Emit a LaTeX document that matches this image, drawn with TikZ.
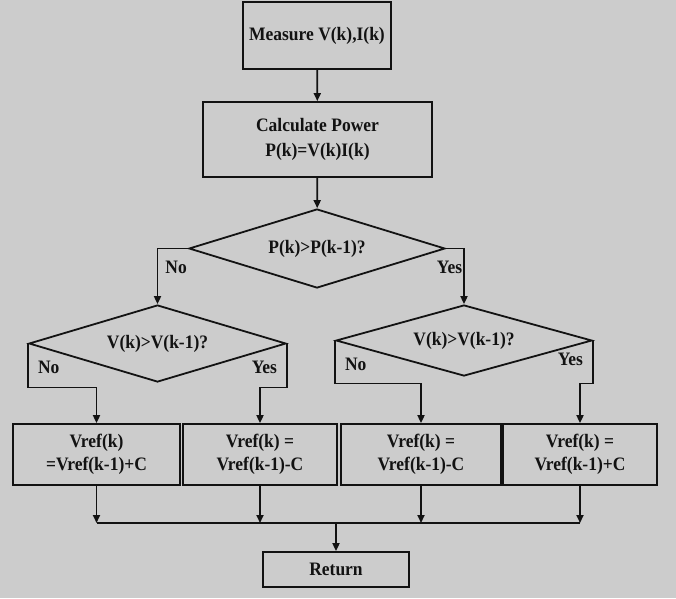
\documentclass[tikz,border=0pt]{standalone}
\usepackage{fontspec}
\setmainfont{Liberation Serif}[FakeStretch=0.92]
\usetikzlibrary{shapes.geometric, arrows.meta, positioning}
\definecolor{BackGray}{RGB}{204,204,204}
\definecolor{LineBlack}{RGB}{18,18,18}

\begin{document}
\begin{tikzpicture}[
    x=1pt, y=-1pt,
    every node/.style={font=\fontsize{19}{23}\selectfont\bfseries, text=LineBlack},
    procbox/.style={
        rectangle, draw=LineBlack, line width=1.8pt,
        align=center, inner sep=0pt
    },
    decbox/.style={
        diamond, draw=LineBlack, line width=1.8pt,
        inner sep=0pt, aspect=3
    },
    lbl/.style={inner sep=0pt},
    arr/.style={-{Triangle[length=8pt, width=7pt]}, line width=1.8pt, LineBlack},
    wire/.style={line width=1.8pt, LineBlack}
]

% background and page size
\fill[BackGray] (0,0) rectangle (676,598);

% ===================================================================
% Measurement and power
% ===================================================================
\node[procbox, minimum width=148pt, minimum height=67pt] (measure)
    at (317,35.5) {Measure V(k),I(k)};

\node[procbox, minimum width=229pt, minimum height=75pt] (power)
    at (317.5,139.5) {Calculate Power\\[2pt] P(k)=V(k)I(k)};

% ===================================================================
% Decisions
% ===================================================================
\node[decbox, minimum width=256pt, minimum height=79pt] (decP)
    at (317,248.5) {P(k)>P(k-1)?};

\node[decbox, minimum width=257pt, minimum height=77pt] (decVno)
    at (157.5,343.5) {V(k)>V(k-1)?};

\node[decbox, minimum width=256pt, minimum height=71pt] (decVyes)
    at (464,340.5) {V(k)>V(k-1)?};

% ===================================================================
% Reference updates
% ===================================================================
\node[procbox, minimum width=167pt, minimum height=61pt] (refA)
    at (96.5,454.5) {Vref(k)\\=Vref(k-1)+C};
\node[procbox, minimum width=154pt, minimum height=61pt] (refB)
    at (260,454.5) {Vref(k) =\\Vref(k-1)-C};
\node[procbox, minimum width=160pt, minimum height=61pt] (refC)
    at (421,454.5) {Vref(k) =\\Vref(k-1)-C};
\node[procbox, minimum width=154pt, minimum height=61pt] (refD)
    at (580,454.5) {Vref(k) =\\Vref(k-1)+C};

\node[procbox, minimum width=146pt, minimum height=35pt] (ret)
    at (336,569.5) {Return};

% join line
\coordinate (join) at (0,523);

% ===================================================================
% Connectors
% ===================================================================
\draw[arr] (measure) -- (power);
\draw[arr] (power) -- (decP);

\draw[arr] (decP.west) -| node[lbl, pos=0.67, anchor=west, xshift=7pt] {No}
    (decVno.north);
\draw[arr] (decP.east) -| node[lbl, pos=0.67, anchor=east, xshift=-1pt] {Yes}
    (decVyes.north);

\draw[arr] (decVno.west) -- node[lbl, pos=0.55, anchor=west, xshift=9pt] {No}
    ++(0,44) -| (refA.north);
\draw[arr] (decVno.east) -- node[lbl, pos=0.55, anchor=east, xshift=-9pt] {Yes}
    ++(0,44) -| (refB.north);
\draw[arr] (decVyes.west) -- node[lbl, pos=0.55, anchor=west, xshift=9pt] {No}
    ++(0,43) -| (refC.north);
\draw[arr] (decVyes.east) -- node[lbl, pos=0.45, anchor=east, xshift=-9pt] {Yes}
    ++(0,43) -| (refD.north);

\foreach \r in {refA, refB, refC, refD}
    \draw[arr] (\r.south) -- (\r.south |- join);
\draw[wire] (refA.south |- join) -- (refD.south |- join);
\draw[arr] (ret.north |- join) -- (ret.north);

\end{tikzpicture}
\end{document}
